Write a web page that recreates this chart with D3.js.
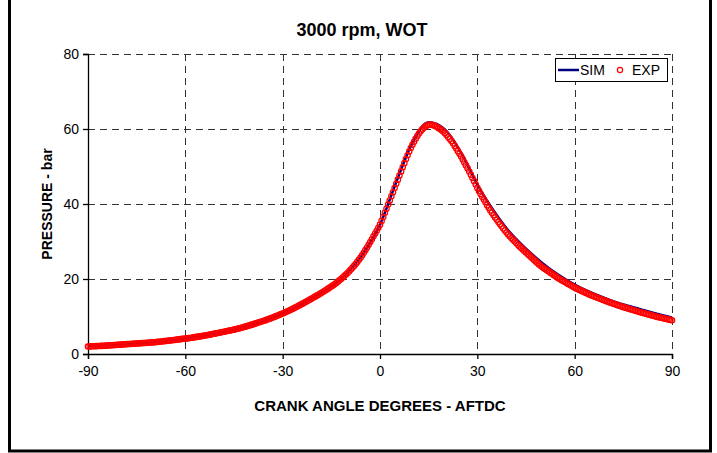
<!DOCTYPE html>
<html>
<head>
<meta charset="utf-8">
<script src="https://cdn.jsdelivr.net/npm/d3@7"></script>
<style>
  body { margin: 0; background: #fff; }
  svg { font-family: 'Liberation Sans', Arial, sans-serif; }
</style>
</head>
<body>
<div id="chart"></div>
<script>
// crank angle ticks and pressure ticks
const xTicks = [-90, -60, -30, 0, 30, 60, 90]
const yTicks = [0, 20, 40, 60, 80]

// SIM: simulated pressure, every 5 deg
const simAngle = [-90, -85, -80, -75, -70, -65, -60, -55, -50, -45, -40, -35, -30, -25, -20, -15, -10, -5,
  0, 5, 10, 15, 20, 25, 30, 35, 40, 45, 50, 55, 60, 65, 70, 75, 80, 85, 90]
const simPressure = [2.1, 2.3, 2.5, 2.8, 3.1, 3.6, 4.1, 4.8, 5.6, 6.5, 7.7, 9.1, 10.8, 12.9, 15.3, 18.0, 21.6, 27.0,
  34.5, 45.8, 56.3, 61.8, 59.9, 53.7, 45.2, 38.3, 32.5, 28.1, 24.3, 21.1, 18.5, 16.4, 14.7, 13.2, 12.0, 10.8, 9.7]

// EXP: measured pressure, every 0.5 deg from -90 to 90
const expStart = -90
const expStep = 0.5
const expPressure = [
  2.00, 2.02, 2.04, 2.06, 2.08, 2.10, 2.12, 2.14, 2.16, 2.18,
  2.20, 2.23, 2.26, 2.29, 2.32, 2.35, 2.38, 2.41, 2.44, 2.47,
  2.50, 2.53, 2.56, 2.59, 2.62, 2.65, 2.68, 2.71, 2.74, 2.77,
  2.80, 2.83, 2.86, 2.89, 2.92, 2.95, 2.98, 3.01, 3.04, 3.07,
  3.10, 3.14, 3.18, 3.22, 3.27, 3.32, 3.37, 3.42, 3.47, 3.52,
  3.57, 3.62, 3.67, 3.72, 3.78, 3.84, 3.90, 3.96, 4.02, 4.06,
  4.10, 4.16, 4.22, 4.28, 4.35, 4.42, 4.49, 4.56, 4.63, 4.70,
  4.77, 4.84, 4.92, 5.00, 5.08, 5.16, 5.24, 5.32, 5.42, 5.51,
  5.60, 5.68, 5.77, 5.86, 5.95, 6.04, 6.13, 6.22, 6.31, 6.40,
  6.50, 6.61, 6.72, 6.83, 6.94, 7.06, 7.18, 7.30, 7.42, 7.56,
  7.70, 7.83, 7.96, 8.10, 8.24, 8.38, 8.52, 8.66, 8.80, 8.95,
  9.10, 9.26, 9.42, 9.58, 9.75, 9.92, 10.09, 10.27, 10.45, 10.62,
  10.80, 11.00, 11.20, 11.40, 11.60, 11.80, 12.01, 12.23, 12.45, 12.67,
  12.90, 13.13, 13.36, 13.60, 13.84, 14.08, 14.32, 14.56, 14.80, 15.05,
  15.30, 15.56, 15.82, 16.08, 16.34, 16.61, 16.88, 17.15, 17.43, 17.71,
  18.00, 18.30, 18.62, 18.95, 19.29, 19.64, 20.00, 20.38, 20.77, 21.18,
  21.60, 22.05, 22.52, 23.00, 23.50, 24.02, 24.56, 25.12, 25.70, 26.33,
  27.00, 27.70, 28.42, 29.14, 29.87, 30.60, 31.37, 32.15, 32.85, 33.65,
  34.50, 35.50, 36.55, 37.65, 38.75, 39.85, 40.95, 42.05, 43.15, 44.27,
  45.40, 46.50, 47.60, 48.70, 49.80, 50.90, 52.00, 53.00, 54.00, 54.95,
  55.80, 56.62, 57.40, 58.12, 58.80, 59.38, 59.90, 60.34, 60.70, 60.96,
  61.10, 61.16, 61.10, 60.97, 60.80, 60.57, 60.30, 60.00, 59.70, 59.32,
  58.90, 58.42, 57.90, 57.36, 56.80, 56.18, 55.50, 54.80, 54.10, 53.40,
  52.70, 51.90, 51.10, 50.30, 49.50, 48.65, 47.80, 46.95, 46.10, 45.20,
  44.30, 43.50, 42.70, 41.95, 41.20, 40.45, 39.70, 39.00, 38.30, 37.65,
  37.00, 36.40, 35.80, 35.20, 34.60, 34.05, 33.50, 32.95, 32.40, 31.90,
  31.40, 30.95, 30.50, 30.05, 29.60, 29.15, 28.70, 28.30, 27.90, 27.50,
  27.10, 26.70, 26.30, 25.90, 25.50, 25.10, 24.70, 24.30, 23.90, 23.55,
  23.20, 22.90, 22.60, 22.30, 22.00, 21.70, 21.40, 21.10, 20.80, 20.50,
  20.20, 19.95, 19.70, 19.45, 19.20, 18.95, 18.70, 18.45, 18.20, 17.95,
  17.70, 17.50, 17.30, 17.10, 16.90, 16.70, 16.50, 16.30, 16.10, 15.90,
  15.70, 15.53, 15.36, 15.19, 15.02, 14.85, 14.68, 14.51, 14.34, 14.17,
  14.00, 13.85, 13.70, 13.55, 13.40, 13.25, 13.10, 12.95, 12.80, 12.65,
  12.50, 12.37, 12.24, 12.11, 11.98, 11.85, 11.72, 11.59, 11.46, 11.33,
  11.20, 11.08, 10.96, 10.84, 10.72, 10.60, 10.48, 10.36, 10.24, 10.12,
  10.00, 9.90, 9.80, 9.70, 9.60, 9.50, 9.40, 9.30, 9.20, 9.10,
  9.00
]

const W = 717
const H = 453
const margin = { top: 54, right: 45, bottom: 99, left: 88 }
const innerW = W - margin.left - margin.right
const innerH = H - margin.top - margin.bottom

const svg = d3.select('#chart').append('svg').attr('width', W).attr('height', H)

// outer frame
svg.append('rect')
  .attr('x', 9.5).attr('y', -2)
  .attr('width', 701).attr('height', 453)
  .attr('fill', 'none').attr('stroke', '#000').attr('stroke-width', 3)

svg.append('text')
  .attr('x', 362).attr('y', 36)
  .attr('text-anchor', 'middle')
  .attr('font-size', 18).attr('font-weight', 'bold')
  .text('3000 rpm, WOT')

const g = svg.append('g').attr('transform', `translate(${margin.left},${margin.top})`)

const x = d3.scaleLinear().domain([-90, 90]).range([0, innerW])
const y = d3.scaleLinear().domain([0, 80]).range([innerH, 0])

// dashed grid
g.append('g').selectAll('line.vgrid')
  .data(xTicks.slice(1))
  .join('line')
  .attr('x1', d => Math.round(x(d)) + 0.5).attr('x2', d => Math.round(x(d)) + 0.5)
  .attr('y1', 0).attr('y2', innerH)
  .attr('stroke', '#333').attr('stroke-dasharray', '7,5')
g.append('g').selectAll('line.hgrid')
  .data(yTicks.slice(1))
  .join('line')
  .attr('x1', 0).attr('x2', innerW)
  .attr('y1', d => Math.round(y(d)) + 0.5).attr('y2', d => Math.round(y(d)) + 0.5)
  .attr('stroke', '#333').attr('stroke-dasharray', '7,5')

// axes (plain hyphen for negatives, as in the original)
const fmt = d => String(d)
const xAxis = g.append('g')
  .attr('transform', `translate(0,${innerH})`)
  .call(d3.axisBottom(x).tickValues(xTicks).tickFormat(fmt).tickSize(5).tickPadding(7))
const yAxis = g.append('g')
  .call(d3.axisLeft(y).tickValues(yTicks).tickFormat(fmt).tickSize(5).tickPadding(4))
;[xAxis, yAxis].forEach(a => {
  a.selectAll('text').attr('font-size', 14).attr('font-family', "'Liberation Sans', Arial, sans-serif").attr('fill', '#000')
  a.selectAll('line, path').attr('stroke', '#000').attr('stroke-width', 1.3)
})

g.append('text')
  .attr('x', innerW / 2).attr('y', innerH + 57)
  .attr('text-anchor', 'middle')
  .attr('font-size', 15).attr('font-weight', 'bold')
  .text('CRANK ANGLE DEGREES - AFTDC')

g.append('text')
  .attr('transform', 'rotate(-90)')
  .attr('x', -innerH / 2).attr('y', -36)
  .attr('text-anchor', 'middle')
  .attr('font-size', 14).attr('font-weight', 'bold')
  .text('PRESSURE - bar')

// SIM line
const simData = simAngle.map((a, i) => ({ a, p: simPressure[i] }))
g.append('path')
  .datum(simData)
  .attr('fill', 'none')
  .attr('stroke', '#000080')
  .attr('stroke-width', 2.5)
  .attr('d', d3.line().x(d => x(d.a)).y(d => y(d.p)).curve(d3.curveMonotoneX))

// EXP circles
const expData = expPressure.map((p, i) => ({ a: expStart + i * expStep, p }))
g.append('g').selectAll('circle')
  .data(expData)
  .join('circle')
  .attr('cx', d => x(d.a))
  .attr('cy', d => y(d.p))
  .attr('r', 2.7)
  .attr('fill', 'none')
  .attr('stroke', '#ff0000')
  .attr('stroke-width', 1.2)

// legend
const leg = svg.append('g').attr('transform', 'translate(555,58)')
leg.append('rect')
  .attr('x', 0.5).attr('y', 0.5).attr('width', 112).attr('height', 23)
  .attr('fill', '#fff').attr('stroke', '#000').attr('stroke-width', 1)
leg.append('line')
  .attr('x1', 3).attr('x2', 24).attr('y1', 12).attr('y2', 12)
  .attr('stroke', '#000080').attr('stroke-width', 2.5)
leg.append('text').attr('x', 25).attr('y', 17).attr('font-size', 14).text('SIM')
leg.append('circle')
  .attr('cx', 65).attr('cy', 12).attr('r', 2.6)
  .attr('fill', 'none').attr('stroke', '#ff0000').attr('stroke-width', 1.2)
leg.append('text').attr('x', 77).attr('y', 17).attr('font-size', 14).text('EXP')
</script>
</body>
</html>
